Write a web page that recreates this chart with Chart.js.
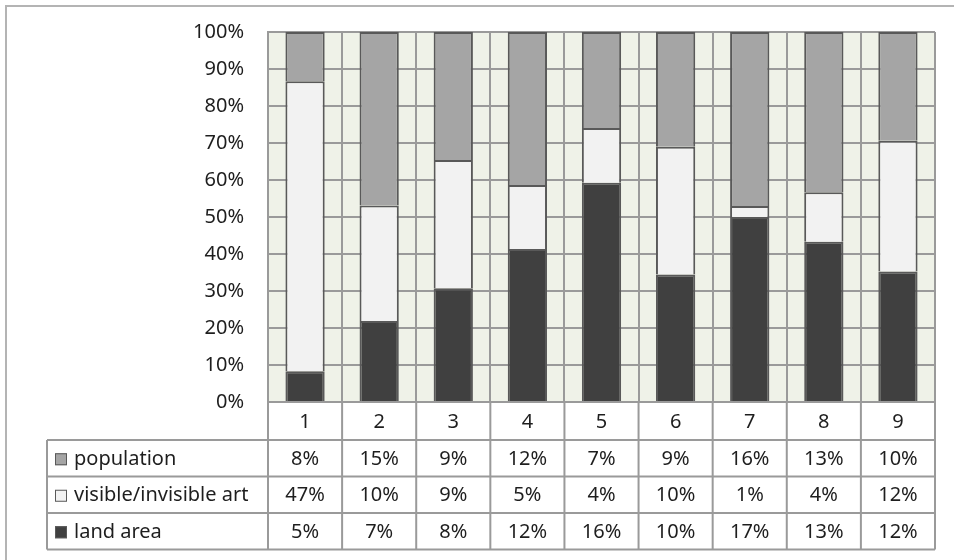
<!DOCTYPE html>
<html lang="en">
<head>
    <meta charset="UTF-8">
    <title>Share by category</title>
    <script src="https://cdn.jsdelivr.net/npm/chart.js@4.4.0/dist/chart.umd.min.js"></script>
    <style>
        html, body { margin: 0; padding: 0; background: #fff; overflow: hidden; }
        #chartCanvas { display: block; }
    </style>
</head>
<body>
    <canvas id="chartCanvas" width="954" height="560"></canvas>
    <script>
        // raw values as printed in the table under the chart
        const categories = ['1', '2', '3', '4', '5', '6', '7', '8', '9'];
        const population = [8, 15, 9, 12, 7, 9, 16, 13, 10];
        const visibleArt = [47, 10, 9, 5, 4, 10, 1, 4, 12];
        const landArea = [5, 7, 8, 12, 16, 10, 17, 13, 12];
        const yTicks = [0, 10, 20, 30, 40, 50, 60, 70, 80, 90, 100];

        const FONT = '"Noto Sans", "Open Sans", sans-serif';
        const GRID = '#9a9a9a';
        const TEXT = '#1e1e1e';

        // 100% stacked: each column is shown as share of its own total
        const totals = categories.map((c, i) => population[i] + visibleArt[i] + landArea[i]);
        const share = arr => arr.map((v, i) => v / totals[i] * 100);

        // table rows, top to bottom, as in the picture
        const tableRows = [
            { label: 'population', values: population, color: '#a5a5a5' },
            { label: 'visible/invisible art', values: visibleArt, color: '#f2f2f2' },
            { label: 'land area', values: landArea, color: '#404040' }
        ];

        const plotBackground = {
            id: 'plotBackground',
            beforeDraw(chart) {
                const { ctx, chartArea: a } = chart;
                ctx.save();
                ctx.fillStyle = '#eff2e8';
                ctx.fillRect(a.left, a.top, a.right - a.left, a.bottom - a.top);
                ctx.restore();
            }
        };

        const dataTable = {
            id: 'dataTable',
            afterDraw(chart) {
                const { ctx, chartArea: a } = chart;
                const n = categories.length;
                const colW = (a.right - a.left) / n;
                const headH = 38;
                const rowH = 36.5;
                const tableLeft = 47;
                const top = a.bottom;

                ctx.save();
                ctx.strokeStyle = GRID;
                ctx.lineWidth = 2;

                // grid of the table
                ctx.beginPath();
                ctx.moveTo(a.left, top);
                ctx.lineTo(a.left, top + headH + rowH * 3);
                for (let i = 1; i <= n; i++) {
                    const x = a.left + colW * i;
                    ctx.moveTo(x, top);
                    ctx.lineTo(x, top + headH + rowH * 3);
                }
                ctx.moveTo(tableLeft, top + headH);
                ctx.lineTo(tableLeft, top + headH + rowH * 3);
                for (let r = 0; r <= 3; r++) {
                    const y = top + headH + rowH * r;
                    ctx.moveTo(tableLeft, y);
                    ctx.lineTo(a.right, y);
                }
                ctx.stroke();

                ctx.fillStyle = TEXT;
                ctx.font = '20px ' + FONT;
                ctx.textAlign = 'center';
                ctx.textBaseline = 'middle';
                categories.forEach((c, i) => {
                    ctx.fillText(c, a.left + colW * (i + 0.5), top + headH / 2 + 1);
                });

                tableRows.forEach((row, r) => {
                    const cy = top + headH + rowH * (r + 0.5) + 1;
                    // legend swatch
                    ctx.fillStyle = row.color;
                    ctx.fillRect(tableLeft + 8, cy - 6, 12, 12);
                    ctx.lineWidth = 1;
                    ctx.strokeStyle = '#595959';
                    ctx.strokeRect(tableLeft + 8.5, cy - 5.5, 11, 11);
                    ctx.fillStyle = TEXT;
                    ctx.textAlign = 'left';
                    ctx.fillText(row.label, tableLeft + 27, cy);
                    ctx.textAlign = 'center';
                    row.values.forEach((v, i) => {
                        ctx.fillText(v + '%', a.left + colW * (i + 0.5), cy);
                    });
                });

                // outer frame of the figure (only left and top are visible)
                ctx.strokeStyle = '#b4b4b4';
                ctx.lineWidth = 2;
                ctx.beginPath();
                ctx.moveTo(6, 560);
                ctx.lineTo(6, 6);
                ctx.lineTo(954, 6);
                ctx.stroke();
                ctx.restore();
            }
        };

        const barStyle = { borderColor: '#595959', borderWidth: 2, barPercentage: 0.53, categoryPercentage: 1 };

        new Chart(document.getElementById('chartCanvas'), {
            type: 'bar',
            data: {
                labels: categories,
                datasets: [
                    Object.assign({ label: 'land area', data: share(landArea), backgroundColor: '#404040' }, barStyle),
                    Object.assign({ label: 'visible/invisible art', data: share(visibleArt), backgroundColor: '#f2f2f2' }, barStyle),
                    Object.assign({ label: 'population', data: share(population), backgroundColor: '#a5a5a5' }, barStyle)
                ]
            },
            options: {
                responsive: false,
                devicePixelRatio: 1,
                animation: false,
                layout: { padding: { top: 32, right: 19, bottom: 158, left: 0 } },
                plugins: {
                    legend: { display: false },
                    tooltip: { enabled: false }
                },
                scales: {
                    x: {
                        stacked: true,
                        grid: { color: GRID, lineWidth: 2, drawTicks: false, offset: true },
                        border: { color: GRID, width: 2 },
                        ticks: { display: false },
                        afterFit(scale) { scale.height = 0; }
                    },
                    y: {
                        stacked: true,
                        min: 0,
                        max: 100,
                        afterBuildTicks(scale) { scale.ticks = yTicks.map(v => ({ value: v })); },
                        grid: { color: GRID, lineWidth: 2, drawTicks: false },
                        border: { color: GRID, width: 2 },
                        ticks: {
                            padding: 24,
                            color: TEXT,
                            font: { family: FONT, size: 20 },
                            callback: v => v + '%'
                        },
                        afterFit(scale) {
                            scale.width = 268;
                            scale.paddingTop = 0;
                            scale.paddingBottom = 0;
                        }
                    }
                }
            },
            plugins: [plotBackground, dataTable]
        });
    </script>
</body>
</html>
